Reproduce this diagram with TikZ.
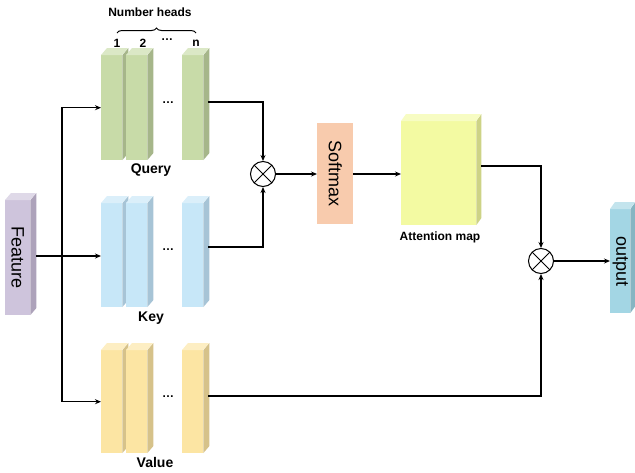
\documentclass[tikz,border=0pt]{standalone}
\usepackage{fontspec}
\setmainfont{Liberation Sans}
\usetikzlibrary{arrows.meta,decorations.pathreplacing}

% palette
\definecolor{qfront}{HTML}{C8DBA8}\definecolor{qside}{HTML}{A6B68A}
\definecolor{kfront}{HTML}{C7E7F8}\definecolor{kside}{HTML}{A7C4D6}
\definecolor{vfront}{HTML}{FCE5A3}\definecolor{vside}{HTML}{D6C28A}
\definecolor{ffront}{HTML}{CEC4DC}\definecolor{fside}{HTML}{ADA2BA}
\definecolor{sfront}{HTML}{F8CBAD}
\definecolor{afront}{HTML}{F3FAA2}\definecolor{aside}{HTML}{CDD386}
\definecolor{ofront}{HTML}{A3D6E4}\definecolor{oside}{HTML}{86B5C2}

% a prism seen slightly from the right and above:
% #1 name, #2 left x, #3 top y, #4 width, #5 height, #6 front colour, #7 side colour, #8 depth x
\newcommand\slab[8]{%
  \node[slabfront, fill=#6, minimum width=#4pt, minimum height=#5pt] (#1) at (#2,#3) {};
  \fill[#7] (#1.north east) -- ++(#8,-7) -- ++(0,#5) -- ++(-#8,7) -- cycle;
  \fill[#6!65!white] (#1.north west) -- ++(#8,-7) -- ++(#4,0) -- ++(-#8,7) -- cycle;
}

\tikzset{
  slabfront/.style={draw=none, inner sep=0pt, anchor=north west},
  conn/.style={line width=1.1pt, -{Stealth[length=6pt,width=5pt]}},
  mult/.style={circle, draw, line width=1pt, minimum size=25pt, inner sep=0pt, fill=white,
    path picture={\draw[line width=1pt]
      (path picture bounding box.north west) -- (path picture bounding box.south east)
      (path picture bounding box.north east) -- (path picture bounding box.south west);}},
  lab/.style={font=\fontsize{14}{16}\selectfont\bfseries, inner sep=0pt},
  smalllab/.style={font=\fontsize{12}{14}\selectfont\bfseries, inner sep=0pt},
  vtext/.style={rotate=-90, font=\fontsize{18}{20}\selectfont, inner sep=0pt},
  dots/.style={font=\fontsize{12}{14}\selectfont\bfseries, inner sep=0pt}
}

\begin{document}
\begin{tikzpicture}[x=1pt,y=-1pt]
\useasboundingbox (0,0) rectangle (635,472);

% input feature
\slab{feat}{5}{200}{25}{115}{ffront}{fside}{6}
\node[vtext] at (feat.center) {Feature};

% query heads
\slab{q1}{101}{55}{21}{105}{qfront}{qside}{6}
\slab{q2}{126}{55}{21}{105}{qfront}{qside}{6}
\slab{qn}{182}{55}{21}{105}{qfront}{qside}{6}
\node[dots] (qd) at (168,103) {…};
\node[lab] (ql) at (151,170) {Query};

% key heads
\slab{k1}{101}{203}{21}{104}{kfront}{kside}{6}
\slab{k2}{126}{203}{21}{104}{kfront}{kside}{6}
\slab{kn}{182}{203}{21}{104}{kfront}{kside}{6}
\node[dots] (kd) at (168,250) {…};
\node[lab] (kl) at (151,318) {Key};

% value heads
\slab{v1}{101}{350}{21}{103}{vfront}{vside}{6}
\slab{v2}{126}{350}{21}{103}{vfront}{vside}{6}
\slab{vn}{182}{350}{21}{103}{vfront}{vside}{6}
\node[dots] (vd) at (168,397) {…};
\node[lab] (vl) at (155,462) {Value};

% head numbering
\node[smalllab] (nh) at (150,12) {Number heads};
\coordinate (bl) at (117,33);
\coordinate (br) at (196,33);
\draw[line width=1pt, decorate, decoration={brace, amplitude=5pt}] (bl) -- (br);
\node[smalllab] (h1) at (117,43) {1};
\node[smalllab] (h2) at (143,43) {2};
\node[dots] (hd) at (167,40) {…};
\node[smalllab] (hn) at (196,43) {n};

% softmax and attention map
\node[draw=none, fill=sfront, minimum width=36pt, minimum height=101pt, inner sep=0pt, anchor=north west] (soft) at (317,123) {};
\node[vtext] at (soft.center) {Softmax};
\slab{att}{401}{121}{75}{104}{afront}{aside}{5}
\node[smalllab] (al) at (440,237) {Attention map};

% output
\slab{out}{610}{209}{20}{104}{ofront}{oside}{5}
\node[vtext] at (out.center) {output};

% products
\node[mult] (m1) at (263,174) {};
\node[mult] (m2) at (541,261) {};

% connectors
\coordinate (fo) at (36,256);
\coordinate (split) at (62,256);
\coordinate (qo) at (208,102);
\coordinate (ko) at (208,247);
\coordinate (vo) at (208,396);
\coordinate (ao) at (481,166);

\draw[conn] (fo) -- (k1.west |- fo);
\draw[conn] (split) |- (q1.west);
\draw[conn] (split) |- (v1.west);
\draw[conn] (qo) -| (m1.north);
\draw[conn] (ko) -| (m1.south);
\draw[conn] (m1.east) -- (soft.west |- m1);
\draw[conn] (soft.east |- m1) -- (att.west |- m1);
\draw[conn] (ao) -| (m2.north);
\draw[conn] (vo) -| (m2.south);
\draw[conn] (m2.east) -- (out.west |- m2);
\end{tikzpicture}
\end{document}
